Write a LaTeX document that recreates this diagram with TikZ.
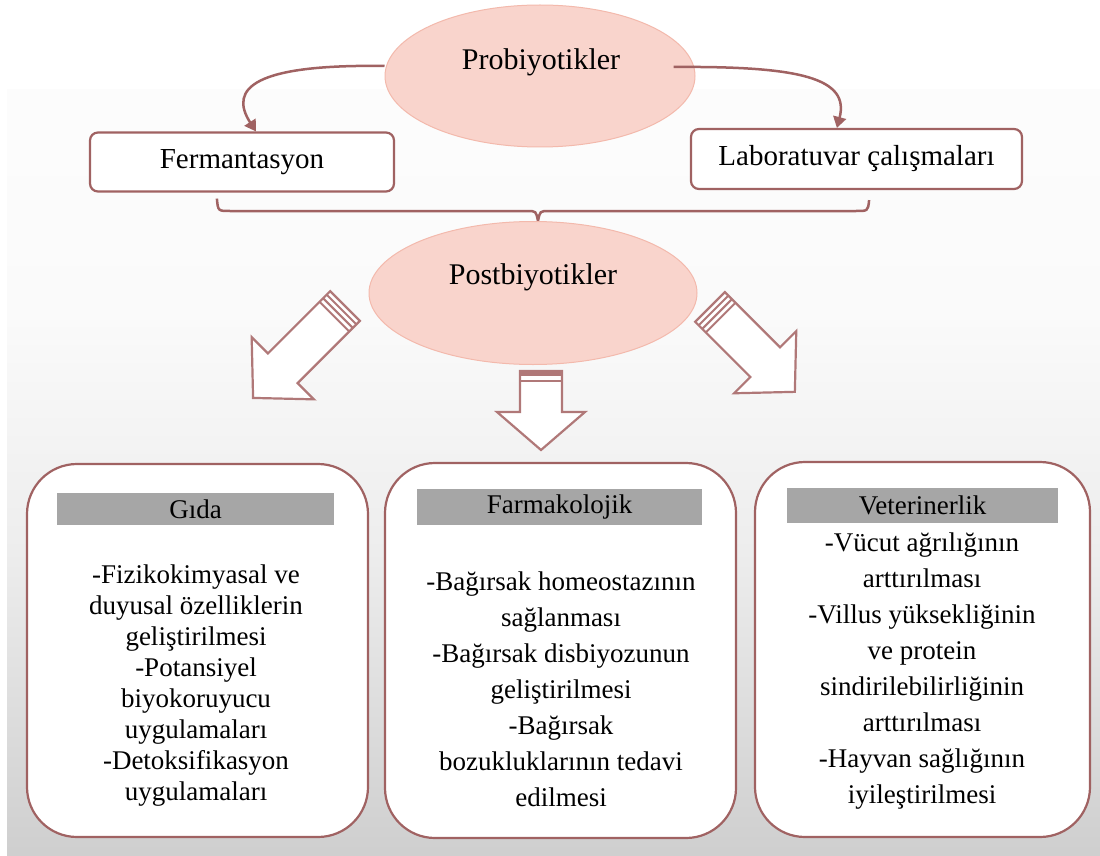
\documentclass[tikz,border=0pt]{standalone}
\usepackage{fontspec}
\setmainfont{Liberation Serif}
\usetikzlibrary{arrows.meta,shapes.geometric,calc}
\definecolor{edge}{RGB}{160,98,98}
\definecolor{arrowedge}{RGB}{176,120,120}
\definecolor{ellfill}{RGB}{249,212,204}
\definecolor{elledge}{RGB}{243,185,172}
\definecolor{hdr}{RGB}{166,166,166}
\pgfdeclareverticalshading{panelshade}{100bp}{color(0bp)=(black!19); color(25bp)=(black!19); color(45bp)=(black!7); color(60bp)=(black!2); color(75bp)=(black!1); color(100bp)=(black!1)}
\begin{document}
\begin{tikzpicture}[x=1pt,y=-1pt,
  ell/.style={ellipse, fill=ellfill, draw=elledge, line width=1pt, inner sep=0pt},
  smallbox/.style={draw=edge, line width=2.2pt, rounded corners=8pt, fill=white, inner sep=0pt, font=\fontsize{29}{34}\selectfont},
  bigbox/.style={draw=edge, line width=2.2pt, rounded corners=50pt, fill=white, inner sep=0pt},
  hdrbox/.style={fill=hdr, inner sep=0pt, font=\fontsize{27}{32}\selectfont},
  body/.style={align=center, inner sep=0pt},
  conn/.style={draw=edge, line width=2.5pt},
  bigarrow/.style={draw=arrowedge, line width=2.2pt, fill=white, line join=miter},
  stripe/.style={draw=arrowedge, line width=2pt}
]
\useasboundingbox (0,0) rectangle (1100,856);
\fill[white] (0,0) rectangle (1100,856);
\fill[shading=panelshade] (7,90) rectangle (1100,856);

% top ellipse and boxes
\node[ell, minimum width=310pt, minimum height=142pt] (prob) at (540,76) {};
\node[font=\fontsize{30}{34}\selectfont] (probtxt) at (541,62) {Probiyotikler};
\node[smallbox, minimum width=304pt, minimum height=59pt] (ferm) at (242,162) {Fermantasyon};
\node[smallbox, minimum width=331pt, minimum height=60pt] (lab) at (856.5,159) {Laboratuvar çalışmaları};

% curved connectors
\draw[conn, -{Triangle[length=11pt,width=13pt]}] ($(prob.west)+(0,-10)$) .. controls (255,64) and (228,88) .. ($(ferm.north west)+(167,0)$);
\draw[conn, -{Triangle[length=11pt,width=13pt]}] ($(prob.east)+(-22,-9)$) .. controls (800,66) and (850,78) .. ($(lab.north west)+(147,0)$);

% brace
\coordinate (bl) at ($(ferm.south west)+(128,6)$);
\coordinate (br) at ($(lab.south east)+(-154,10)$);
\coordinate (bt) at (538,221);
\draw[conn] (bl) .. controls (218,211) .. (230,211) -- (527,211) .. controls (536,211) .. (bt)
  .. controls (540,211) .. (549,211) -- (856,211) .. controls (868,211) .. (br);

% post ellipse
\node[ell, minimum width=328pt, minimum height=143pt] (post) at (533,293) {};
\node[font=\fontsize{30}{34}\selectfont] (posttxt) at (533,277) {Postbiyotikler};

% big arrows
\begin{scope}[shift={(345,306)}, rotate=225]
  \draw[bigarrow] (0,-21) -- (88,-21) -- (88,-44) -- (130,0) -- (88,44) -- (88,21) -- (0,21) -- cycle;
  \draw[stripe] (5,-21) -- (5,21) (10,-21) -- (10,21) (15,-21) -- (15,21);
\end{scope}
\begin{scope}[shift={(541,371)}, rotate=-90]
  \draw[bigarrow] (0,-21) -- (41,-21) -- (41,-44) -- (79,0) -- (41,44) -- (41,21) -- (0,21) -- cycle;
  \fill[arrowedge] (0,-21) rectangle (5,21);
  \draw[stripe] (10,-21) -- (10,21);
\end{scope}
\begin{scope}[shift={(710,307)}, rotate=-45]
  \draw[bigarrow] (0,-21) -- (78,-21) -- (78,-44) -- (120,0) -- (78,44) -- (78,21) -- (0,21) -- cycle;
  \draw[stripe] (5,-21) -- (5,21) (10,-21) -- (10,21) (15,-21) -- (15,21);
\end{scope}

% bottom boxes
\node[bigbox, minimum width=341pt, minimum height=373pt] (gida) at (197.5,650.5) {};
\node[bigbox, minimum width=351pt, minimum height=375pt] (farm) at (560.5,650.5) {};
\node[bigbox, minimum width=335pt, minimum height=375pt] (vet) at (922.5,649.5) {};

\node[hdrbox, minimum width=277pt, minimum height=32pt] (gidah) at (195.5,509) {Gıda};
\node[hdrbox, minimum width=285pt, minimum height=36pt] (farmh) at (559.5,507) {Farmakolojik};
\node[hdrbox, minimum width=271pt, minimum height=35pt] (veth) at (922.5,505.5) {Veterinerlik};

\node[body, font=\fontsize{27}{31}\selectfont] (gidat) at (196,686) {-Fizikokimyasal ve\\duyusal özelliklerin\\geliştirilmesi\\-Potansiyel\\biyokoruyucu\\uygulamaları\\-Detoksifikasyon\\uygulamaları};
\node[body, font=\fontsize{27}{36}\selectfont] (farmt) at (561,689) {-Bağırsak homeostazının\\sağlanması\\-Bağırsak disbiyozunun\\geliştirilmesi\\-Bağırsak\\bozukluklarının tedavi\\edilmesi};
\node[body, font=\fontsize{27}{36}\selectfont] (vett) at (922,671) {-Vücut ağrılığının\\arttırılması\\-Villus yüksekliğinin\\ve protein\\sindirilebilirliğinin\\arttırılması\\-Hayvan sağlığının\\iyileştirilmesi};
\end{tikzpicture}
\end{document}
